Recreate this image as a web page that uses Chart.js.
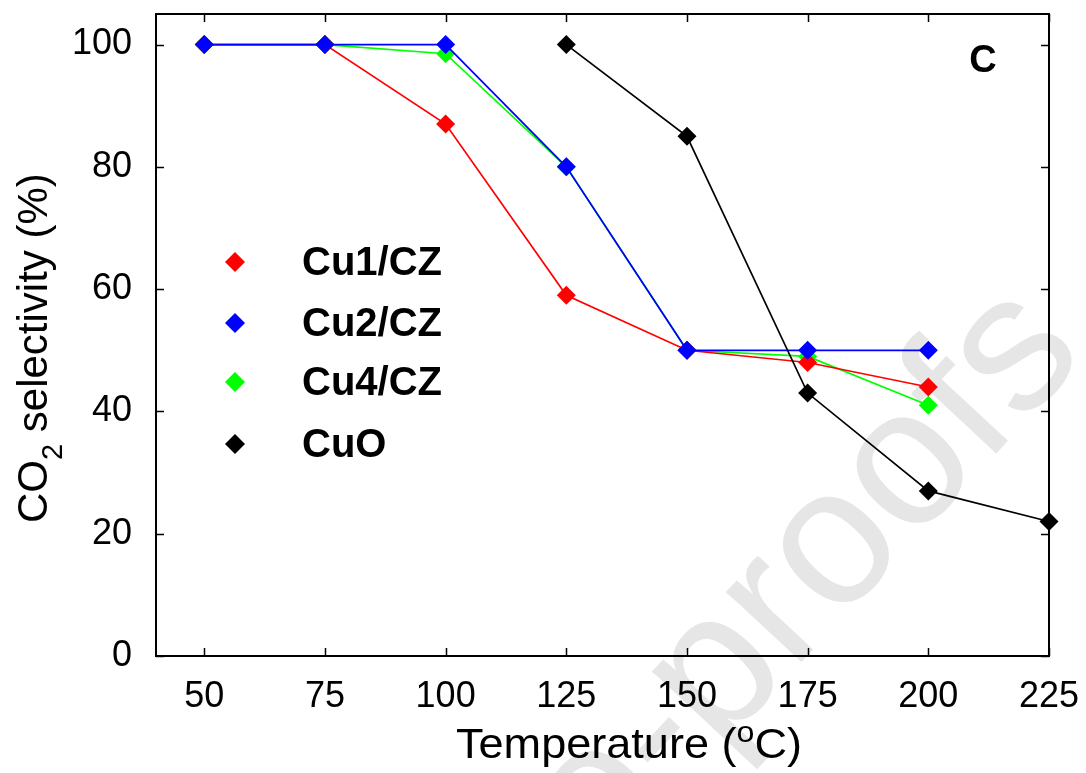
<!DOCTYPE html>
<html>
<head>
<meta charset="utf-8">
<script src="https://cdn.jsdelivr.net/npm/chart.js@4.4.1/dist/chart.umd.min.js"></script>
<style>
  html, body { margin: 0; padding: 0; background: #fff; }
  #wrap { width: 1086px; height: 773px; }
</style>
</head>
<body>
<div id="wrap"><canvas id="selChart" width="1086" height="773"></canvas></div>
<script>
// Temperature (°C)
const temps = [50, 75, 100, 125, 150, 175, 200, 225];

// CO2 selectivity (%), null = not measured
const cu1cz = [100, 100, 87, 59, 50, 48, 44, null];
const cu2cz = [100, 100, 100, 80, 50, 50, 50, null];
const cu4cz = [100, 100, 98.5, 80, 50, 49, 41, null];
const cuo   = [null, null, null, 100, 85, 43, 27, 22];

const xTicks = [50, 75, 100, 125, 150, 175, 200, 225];
const yTicks = [0, 20, 40, 60, 80, 100];

const FONT = '"Liberation Sans", Arial, sans-serif';

function toPoints(values) {
    return temps.map((t, i) => ({ x: t, y: values[i] })).filter(p => p.y !== null);
}

function series(label, values, color, order) {
    return {
        label: label,
        data: toPoints(values),
        borderColor: color,
        backgroundColor: color,
        borderWidth: 1.7,
        pointStyle: 'rectRot',
        pointRadius: 9.5,
        pointBorderWidth: 0,
        pointHoverRadius: 9.5,
        tension: 0,
        fill: false,
        clip: false,
        order: order
    };
}

// keep the plot box where it is: no extra room for overhanging tick labels
function noPadding(s) {
    s.paddingTop = 0;
    s.paddingBottom = 0;
    s.paddingLeft = 0;
    s.paddingRight = 0;
}

// faint watermark behind the plot
const watermark = {
    id: 'watermark',
    beforeDraw(chart) {
        const ctx = chart.ctx;
        ctx.save();
        ctx.translate(1088, 355);
        ctx.rotate(-47 * Math.PI / 180);
        ctx.font = '195px ' + FONT;
        ctx.fillStyle = '#e6e6e6';
        ctx.textAlign = 'right';
        ctx.textBaseline = 'alphabetic';
        ctx.fillText('Journal Pre-proofs', 0, 0);
        ctx.restore();
    }
};

// box around the plot with inward ticks on all four sides
const frame = {
    id: 'frame',
    beforeDatasetsDraw(chart) {
        const ctx = chart.ctx;
        const a = chart.chartArea;
        const xs = chart.scales.x, ys = chart.scales.y;
        const tl = 8;
        ctx.save();
        ctx.strokeStyle = '#000';
        ctx.lineWidth = 2;
        ctx.strokeRect(a.left, a.top, a.right - a.left, a.bottom - a.top);
        ctx.lineWidth = 1.5;
        ctx.beginPath();
        xTicks.forEach(v => {
            const px = Math.round(xs.getPixelForValue(v)) + 0.5;
            ctx.moveTo(px, a.bottom); ctx.lineTo(px, a.bottom - tl);
            ctx.moveTo(px, a.top); ctx.lineTo(px, a.top + tl);
        });
        yTicks.forEach(v => {
            const py = Math.round(ys.getPixelForValue(v)) + 0.5;
            ctx.moveTo(a.left, py); ctx.lineTo(a.left + tl, py);
            ctx.moveTo(a.right, py); ctx.lineTo(a.right - tl, py);
        });
        ctx.stroke();
        ctx.restore();
    }
};

// axis titles, legend and panel letter
const annotations = {
    id: 'annotations',
    afterDraw(chart) {
        const ctx = chart.ctx;
        ctx.save();
        ctx.fillStyle = '#000';
        ctx.textBaseline = 'alphabetic';
        ctx.textAlign = 'left';

        // x title: Temperature (°C) with raised o, stretched to the reference width
        const big = '42px ' + FONT, small = '30px ' + FONT;
        ctx.font = big;
        let w = ctx.measureText('Temperature (').width + ctx.measureText('C)').width;
        ctx.font = small;
        w += ctx.measureText('o').width;
        ctx.translate(456, 758);
        ctx.scale(346 / w, 1);
        let x = 0;
        ctx.font = big;
        ctx.fillText('Temperature (', x, 0);
        x += ctx.measureText('Temperature (').width;
        ctx.font = small;
        ctx.fillText('o', x, -16);
        x += ctx.measureText('o').width;
        ctx.font = big;
        ctx.fillText('C)', x, 0);
        ctx.setTransform(1, 0, 0, 1, 0, 0);

        // y title: CO2 selectivity (%) with lowered 2
        ctx.translate(47, 523);
        ctx.rotate(-Math.PI / 2);
        let s = 0;
        ctx.font = '42px ' + FONT;
        ctx.fillText('CO', s, 0);
        s += ctx.measureText('CO').width;
        ctx.font = '29px ' + FONT;
        ctx.fillText('2', s, 15);
        s += ctx.measureText('2').width;
        ctx.font = '42px ' + FONT;
        ctx.fillText(' selectivity (%)', s, 0);
        ctx.setTransform(1, 0, 0, 1, 0, 0);

        // legend inside the plot
        const rowY = [262, 323, 382, 444];
        ctx.font = 'bold 40px ' + FONT;
        ctx.textBaseline = 'middle';
        chart.data.datasets.forEach((ds, i) => {
            const y = rowY[i];
            const r = 10;
            ctx.fillStyle = ds.borderColor;
            ctx.beginPath();
            ctx.moveTo(235, y - r);
            ctx.lineTo(235 + r, y);
            ctx.lineTo(235, y + r);
            ctx.lineTo(235 - r, y);
            ctx.closePath();
            ctx.fill();
            ctx.fillStyle = '#000';
            ctx.fillText(ds.label, 302, y + 2);
        });

        // panel letter
        ctx.textAlign = 'center';
        ctx.font = 'bold 38px ' + FONT;
        ctx.fillText('C', 983, 62);
        ctx.restore();
    }
};

const ctx = document.getElementById('selChart').getContext('2d');
new Chart(ctx, {
    type: 'line',
    data: {
        datasets: [
            series('Cu1/CZ', cu1cz, '#ff0000', 2),
            series('Cu2/CZ', cu2cz, '#0000ff', 1),
            series('Cu4/CZ', cu4cz, '#00ff00', 3),
            series('CuO', cuo, '#000000', 0)
        ]
    },
    options: {
        responsive: false,
        animation: false,
        devicePixelRatio: 1,
        layout: { padding: { left: 0, top: 14, right: 37, bottom: 0 } },
        plugins: {
            legend: { display: false },
            tooltip: { enabled: false },
            title: { display: false }
        },
        scales: {
            x: {
                type: 'linear',
                min: 40,
                max: 225,
                afterBuildTicks: s => { s.ticks = xTicks.map(v => ({ value: v })); },
                afterFit: s => { s.height = 117; noPadding(s); },
                grid: { display: false, drawTicks: false },
                border: { display: false },
                ticks: {
                    color: '#000',
                    font: { family: FONT, size: 36 },
                    padding: 19,
                    maxRotation: 0,
                    autoSkip: false
                }
            },
            y: {
                type: 'linear',
                min: 0,
                max: 105,
                afterBuildTicks: s => { s.ticks = yTicks.map(v => ({ value: v })); },
                afterFit: s => { s.width = 156; noPadding(s); },
                grid: { display: false, drawTicks: false },
                border: { display: false },
                ticks: {
                    color: '#000',
                    font: { family: FONT, size: 36 },
                    padding: 24,
                    autoSkip: false
                }
            }
        }
    },
    plugins: [watermark, frame, annotations]
});
</script>
</body>
</html>
